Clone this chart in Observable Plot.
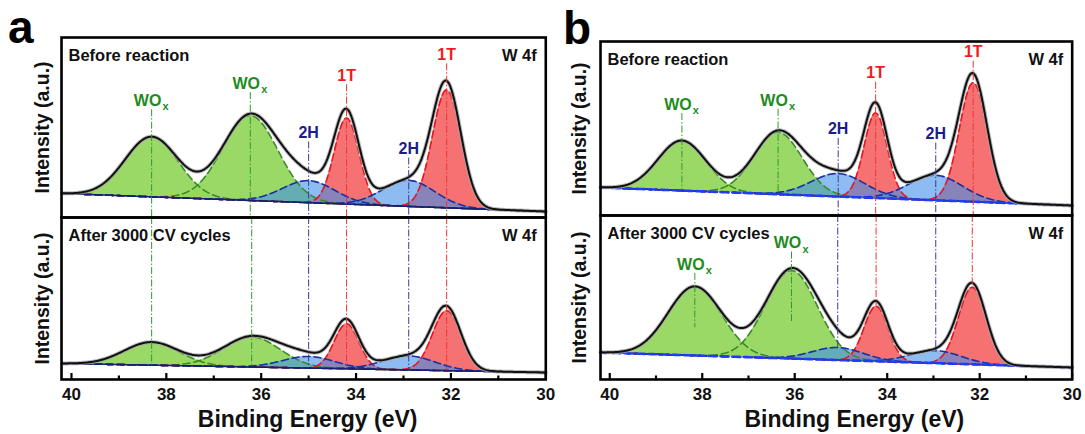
<!DOCTYPE html>
<html><head><meta charset="utf-8">
<script src="https://cdn.jsdelivr.net/npm/d3@7"></script>
<script src="https://cdn.jsdelivr.net/npm/@observablehq/plot@0.6"></script>
<style>
body{margin:0;background:#fff;}
#root{position:relative;width:1085px;height:434px;overflow:hidden;font-family:"Liberation Sans",Arial,sans-serif;background:#fff;}
#root svg{position:absolute;overflow:visible;}
.letter{position:absolute;font-weight:bold;font-size:46px;line-height:1;font-family:"Liberation Sans",Arial,sans-serif;}
</style></head><body><div id="root"></div>
<script>
// ---------- data ----------
const peakKind = ["WOx", "WOx", "2H", "1T", "2H", "1T"];
const xTicks = [40, 38, 36, 34, 32, 30];
const xMinorTicks = [39, 37, 35, 33, 31];
const panelLetters = ["a", "b"];
const stateTitles = ["Before reaction", "After 3000 CV cycles"];
const regionLabel = "W 4f";
const xTitle = "Binding Energy (eV)";
const yTitle = "Intensity (a.u.)";

// panel a, before reaction
const aBeforeCenter = [38.31, 36.23, 35.0, 34.2, 32.89, 32.09];
const aBeforeHeight = [60, 85, 22, 86, 26, 118];
const aBeforeWidth  = [0.56, 0.58, 0.55, 0.26, 0.55, 0.30];
const aBeforeBackground = [24, 6];      // at 40.2 eV and 30 eV
// panel a, after 3000 CV cycles
const aAfterCenter = [38.31, 36.2, 35.0, 34.2, 32.89, 32.09];
const aAfterHeight = [23, 30, 11.6, 45, 14, 60];
const aAfterWidth  = [0.58, 0.6, 0.55, 0.26, 0.55, 0.30];
const aAfterBackground = [16, 7];
// panel b, before reaction
const bBeforeCenter = [38.44, 36.36, 35.06, 34.25, 32.95, 32.14];
const bBeforeHeight = [50, 62, 23, 85, 25, 119];
const bBeforeWidth  = [0.52, 0.52, 0.58, 0.25, 0.58, 0.30];
const bBeforeBackground = [28, 10];
// panel b, after 3000 CV cycles
const bAfterCenter = [38.16, 36.07, 35.07, 34.24, 32.95, 32.16];
const bAfterHeight = [69, 88, 12.5, 55, 12.5, 77];
const bAfterWidth  = [0.58, 0.56, 0.55, 0.26, 0.55, 0.30];
const bAfterBackground = [27, 12];

// ---------- styles ----------
const fillColor = {WOx: "#96d75f", "1T": "#f56a6a", "2H": "#3f8fe8"};
const fillOpacity = {WOx: 0.95, "1T": 0.95, "2H": 0.6};
const edgeColor = {WOx: "#3a8a2a", "1T": "#e8141e", "2H": "#1f2f9a"};
const labelColor = {WOx: "#1e8c1e", "1T": "#ee1c1c", "2H": "#1c1c8c"};
const lineColor = {WOx: "#2e9a2e", "1T": "#e33", "2H": "#3a3a9a"};
const FONT = '"Liberation Sans", Arial, sans-serif';

const root = document.getElementById("root");
const grid = d3.range(0, 511).map(i => 40.2 - i * 0.02);
const gauss = (x, c, h, s) => h * Math.exp(-((x - c) ** 2) / (2 * s * s));

function subplot(o) {
  const {left, right, top, bottom, x0, center, height, width, background, isBottom, title,
         showLabels, labelGap, linesMode, baselineBlue, yDx, xTitleDx} = o;
  const W = right - left, H = bottom - top;
  const ml = 50, mr = 22, mt = 6, mb = isBottom ? 60 : 6;
  const bg = x => background[1] + (background[0] - background[1]) * (x - 30) / (40.2 - 30);
  const comps = center.map((c, i) => ({i, kind: peakKind[i], c, h: height[i], s: width[i]}));
  const env = x => bg(x) + d3.sum(comps, p => gauss(x, p.c, p.h, p.s));
  const rows = [];
  for (const p of comps) for (const x of grid)
    rows.push({x, i: p.i, kind: p.kind, y1: bg(x), y2: bg(x) + gauss(x, p.c, p.h, p.s)});
  const envRows = grid.map(x => ({x, y: env(x)}));
  const bgRows = grid.map(x => ({x, y: bg(x)}));

  const labelRows = comps.map(p => ({...p, ly: env(p.c) + (labelGap ? labelGap[p.i] : 27)}));
  const shown = labelRows.filter(p => showLabels.includes(p.i));
  const lines = labelRows.map(p => {
    const m = linesMode[p.i];
    let y1, y2;
    if (m === "labelToBottom") { y1 = p.ly - 9; y2 = 0; }
    else if (m === "labelToBase") { y1 = p.ly - 9; y2 = bg(p.c); }
    else if (m === "topToBase") { y1 = H; y2 = bg(p.c); }
    else if (m === "topToPeak") { y1 = H; y2 = bg(p.c) + p.h; }
    else if (m === "labelToMid") { y1 = p.ly - 9; y2 = bg(p.c) + p.h * 0.4; }
    else return null;
    return {kind: p.kind, c: p.c, y1, y2};
  }).filter(d => d);

  const marks = [];
  for (const k of ["WOx", "1T", "2H"]) {
    marks.push(Plot.areaY(rows.filter(r => r.kind === k), {x: "x", y1: "y1", y2: "y2", z: "i",
      fill: fillColor[k], fillOpacity: fillOpacity[k], curve: "linear"}));
  }
  for (const k of ["WOx", "1T", "2H"]) {
    marks.push(Plot.line(rows.filter(r => r.kind === k), {x: "x", y: "y2", z: "i",
      stroke: edgeColor[k], strokeWidth: 1.6, strokeDasharray: "7,4"}));
  }
  marks.push(baselineBlue
    ? Plot.line(bgRows, {x: "x", y: "y", stroke: "#1e3cff", strokeWidth: 2.6, strokeDasharray: "8,4"})
    : Plot.line(bgRows, {x: "x", y: "y", stroke: "#14206e", strokeWidth: 1.6}));
  marks.push(Plot.line(envRows, {x: "x", y: "y", stroke: "#a8a8a8", strokeWidth: 4, strokeOpacity: 0.8}));
  marks.push(Plot.line(envRows, {x: "x", y: "y", stroke: "#111", strokeWidth: 2}));
  for (const k of ["WOx", "1T", "2H"]) {
    marks.push(Plot.ruleX(lines.filter(l => l.kind === k), {x: "c", y1: "y1", y2: "y2",
      stroke: lineColor[k], strokeWidth: 1, strokeDasharray: "7,2,1.5,2"}));
  }
  // peak labels
  for (const k of ["1T", "2H"]) {
    marks.push(Plot.text(shown.filter(p => p.kind === k), {x: "c", y: "ly", text: () => k,
      fill: labelColor[k], fontSize: 16, fontWeight: "bold", lineAnchor: "middle", fontFamily: FONT}));
  }
  const wo = shown.filter(p => p.kind === "WOx");
  marks.push(Plot.text(wo, {x: "c", y: "ly", text: () => "WO", dx: -4, fill: labelColor.WOx,
    fontSize: 16, fontWeight: "bold", lineAnchor: "middle", fontFamily: FONT}));
  marks.push(Plot.text(wo, {x: "c", y: "ly", text: () => "x", dx: 14, dy: 6, fill: labelColor.WOx,
    fontSize: 11, fontWeight: "bold", lineAnchor: "middle", fontFamily: FONT}));
  // corner texts
  marks.push(Plot.text([title], {frameAnchor: "top-left", dx: 7, dy: 18, text: d => d, textAnchor: "start",
    lineAnchor: "middle", fontSize: 16.5, fontWeight: "bold", fill: "#111", fontFamily: FONT}));
  marks.push(Plot.text([regionLabel], {frameAnchor: "top-right", dx: -9, dy: 18, text: d => d, textAnchor: "end",
    lineAnchor: "middle", fontSize: 16.5, fontWeight: "bold", fill: "#111", fontFamily: FONT}));
  // y title
  marks.push(Plot.text([yTitle], {frameAnchor: "left", dx: yDx, rotate: -90, text: d => d,
    textAnchor: "middle", lineAnchor: "middle", fontSize: 19.5, fontWeight: "bold", fill: "#111", fontFamily: FONT}));
  if (isBottom) {
    marks.push(Plot.tickX(xTicks, {x: d => d, insetTop: H - 6, stroke: "#000", strokeWidth: 2.2}));
    marks.push(Plot.tickX(xMinorTicks, {x: d => d, insetTop: H - 3.5, stroke: "#000", strokeWidth: 2.2}));
    marks.push(Plot.text(xTicks, {x: d => d, frameAnchor: "bottom", dy: 15, text: d => String(d),
      textAnchor: "middle", lineAnchor: "middle", fontSize: 17, fontWeight: "bold", fill: "#111", fontFamily: FONT}));
    marks.push(Plot.text([xTitle], {frameAnchor: "bottom", dy: 40, dx: xTitleDx, text: d => d,
      textAnchor: "middle", lineAnchor: "middle", fontSize: 23, fontWeight: "bold", fill: "#111", fontFamily: FONT}));
  }
  marks.push(Plot.frame({stroke: "#000", strokeWidth: 2.6}));

  const svg = Plot.plot({
    width: W + ml + mr, height: H + mt + mb,
    marginLeft: ml, marginRight: mr, marginTop: mt, marginBottom: mb,
    x: {domain: [x0, 30], axis: null},
    y: {domain: [0, H], axis: null},
    style: {background: "transparent", overflow: "visible", fontFamily: FONT},
    marks
  });
  svg.style.left = (left - ml) + "px";
  svg.style.top = (top - mt) + "px";
  root.append(svg);
}

// panel a
subplot({left: 60.7, right: 545, top: 217, bottom: 379, x0: 40.21,
  center: aAfterCenter, height: aAfterHeight, width: aAfterWidth, background: aAfterBackground,
  isBottom: true, title: stateTitles[1], showLabels: [],
  linesMode: ["topToBase", "topToBase", "topToBase", "topToBase", "topToBase", "topToBase"],
  baselineBlue: false, yDx: -19, xTitleDx: 4});
subplot({left: 60.7, right: 545, top: 37, bottom: 217, x0: 40.21,
  center: aBeforeCenter, height: aBeforeHeight, width: aBeforeWidth, background: aBeforeBackground,
  isBottom: false, title: stateTitles[0], showLabels: [0, 1, 2, 3, 4, 5],
  labelGap: [36, 30, 38, 33, 28, 26],
  linesMode: ["labelToBottom", "labelToBottom", "labelToBottom", "labelToBottom", "labelToBottom", "labelToBottom"],
  baselineBlue: false, yDx: -19});
// panel b
subplot({left: 600, right: 1071.7, top: 215, bottom: 379, x0: 40.2,
  center: bAfterCenter, height: bAfterHeight, width: bAfterWidth, background: bAfterBackground,
  isBottom: true, title: stateTitles[1], showLabels: [0, 1],
  labelGap: [22, 25, 27, 27, 27, 27],
  linesMode: ["labelToMid", "labelToMid", "topToPeak", "topToPeak", "topToPeak", "topToPeak"],
  baselineBlue: true, yDx: -21, xTitleDx: 18});
subplot({left: 600, right: 1071.7, top: 41, bottom: 215, x0: 40.2,
  center: bBeforeCenter, height: bBeforeHeight, width: bBeforeWidth, background: bBeforeBackground,
  isBottom: false, title: stateTitles[0], showLabels: [0, 1, 2, 3, 4, 5],
  labelGap: [36, 30, 41, 29, 38, 21],
  linesMode: ["labelToBase", "labelToBase", "labelToBottom", "labelToBottom", "labelToBottom", "labelToBottom"],
  baselineBlue: true, yDx: -21});

// panel letters
[[panelLetters[0], 8, 4], [panelLetters[1], 563, 5]].forEach(([t, x, y]) => {
  const d = document.createElement("div");
  d.className = "letter"; d.textContent = t;
  d.style.left = x + "px"; d.style.top = y + "px";
  root.append(d);
});
</script>
</body></html>
